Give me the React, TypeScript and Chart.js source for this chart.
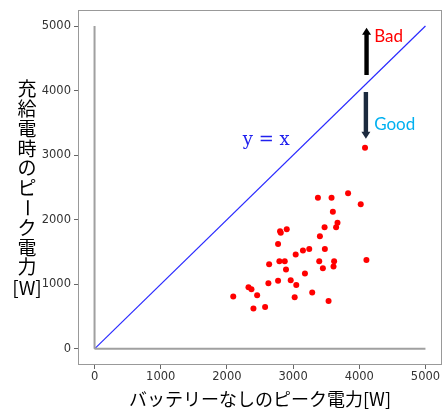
import { useEffect, useRef } from 'react';
import { Chart, registerables } from 'chart.js';
Chart.register(...registerables);

const xValues = [3375, 3581, 3831, 4022, 3601, 3671, 3650, 3476, 3405, 2803, 2814, 2904, 2773, 3039, 3149, 3244, 3480, 2638, 2793, 2874, 3395, 3620, 4108, 2893, 3450, 3611, 3179, 2627, 2773, 2964, 3048, 2326, 2371, 2457, 2096, 3024, 3289, 2401, 2577, 3536, 4087];
const yValues = [2342, 2342, 2410, 2240, 2125, 1955, 1884, 1884, 1745, 1822, 1800, 1853, 1625, 1460, 1522, 1548, 1548, 1311, 1358, 1358, 1358, 1358, 1378, 1228, 1249, 1274, 1166, 1017, 1053, 1063, 991, 955, 924, 831, 810, 800, 872, 624, 650, 743, 3116];

const xTicks = [0, 1000, 2000, 3000, 4000, 5000];
const yTicks = [0, 1000, 2000, 3000, 4000, 5000];
const axisMin = -250;
const axisMax = 5250;

const diagX = [0, 5000];
const diagY = [0, 5000];
const vLineX = [0, 0];
const vLineY = [0, 5000];
const hLineX = [0, 5000];
const hLineY = [0, 0];

// arrows: [x, yFrom, yTo]
const arrowUp = [4110, 4240, 4975];
const arrowDown = [4100, 3980, 3255];
// labels: [x, y]
const badPos = [4225, 4834];
const goodPos = [4225, 3478];
const eqPos = [2595, 3225];

const xTitle = 'バッテリーなしのピーク電力[W]';
const yTitleChars = '充給電時のピーク電力';
const yTitleUnit = '[W]';

const pts = (xs: number[], ys: number[]) => xs.map((x, i) => ({ x, y: ys[i] }));

export default function App() {
  const ref = useRef<HTMLCanvasElement>(null);
  useEffect(() => {
    const overlay = {
      id: 'overlay',
      beforeDatasetsDraw(chart: any) {
        const { ctx, chartArea: a } = chart;
        ctx.save();
        ctx.strokeStyle = '#999';
        ctx.lineWidth = 1;
        ctx.strokeRect(Math.round(a.left) + 0.5, Math.round(a.top) + 0.5, Math.round(a.right - a.left) - 1, Math.round(a.bottom - a.top) - 1);
        ctx.restore();
      },
      afterDraw(chart: any) {
        const { ctx, chartArea: a, scales } = chart;
        const xs = scales.x, ys = scales.y;
        ctx.save();
        const drawArrow = (spec: number[], color: string) => {
          const x = xs.getPixelForValue(spec[0]);
          const y0 = ys.getPixelForValue(spec[1]);
          const y1 = ys.getPixelForValue(spec[2]);
          const dir = y1 < y0 ? -1 : 1;
          const headLen = 7, sw = 2.2, hw = 4.5;
          const yb = y1 - dir * headLen;
          ctx.fillStyle = color;
          ctx.beginPath();
          ctx.moveTo(x - sw, y0);
          ctx.lineTo(x - sw, yb);
          ctx.lineTo(x - hw, yb);
          ctx.lineTo(x, y1);
          ctx.lineTo(x + hw, yb);
          ctx.lineTo(x + sw, yb);
          ctx.lineTo(x + sw, y0);
          ctx.closePath();
          ctx.fill();
        };
        drawArrow(arrowUp, '#000000');
        drawArrow(arrowDown, '#1c2a3e');
        ctx.textBaseline = 'middle';
        ctx.textAlign = 'left';
        ctx.font = '17px Lato';
        ctx.fillStyle = '#ff0000';
        ctx.fillText('Bad', xs.getPixelForValue(badPos[0]), ys.getPixelForValue(badPos[1]));
        ctx.fillStyle = '#00b0f0';
        ctx.fillText('Good', xs.getPixelForValue(goodPos[0]), ys.getPixelForValue(goodPos[1]));
        ctx.textAlign = 'center';
        ctx.font = '18px "DejaVu Serif"';
        ctx.fillStyle = '#2020ee';
        ctx.fillText('y = x', xs.getPixelForValue(eqPos[0]), ys.getPixelForValue(eqPos[1]));
        ctx.fillStyle = '#000';
        ctx.font = '18px "Noto Sans CJK JP"';
        ctx.textAlign = 'center';
        ctx.fillText(xTitle, (a.left + a.right) / 2, 399);
        ctx.font = '19px "Noto Sans CJK JP"';
        const cx = 27;
        let cy = 89;
        for (const ch of yTitleChars) {
          if (ch === 'ー') {
            ctx.save();
            ctx.translate(cx, cy);
            ctx.rotate(Math.PI / 2);
            ctx.fillText(ch, 0, 0);
            ctx.restore();
          } else {
            ctx.fillText(ch, cx, cy);
          }
          cy += 19.8;
        }
        ctx.fillText(yTitleUnit, cx, 288);
        ctx.restore();
      },
    };

    const chart = new Chart(ref.current!, {
      type: 'scatter',
      data: {
        datasets: [
          { data: pts(vLineX, vLineY), showLine: true, borderColor: '#a0a0a0', borderWidth: 2, pointRadius: 0 },
          { data: pts(hLineX, hLineY), showLine: true, borderColor: '#a0a0a0', borderWidth: 2, pointRadius: 0 },
          { data: pts(diagX, diagY), showLine: true, borderColor: '#2a2aff', borderWidth: 1.2, pointRadius: 0 },
          { data: pts(xValues, yValues), pointRadius: 3, pointBackgroundColor: '#ff0000', pointBorderWidth: 0, borderWidth: 0 },
        ],
      },
      options: {
        animation: false,
        responsive: false,
        events: [],
        layout: { padding: { top: 8, right: 2, left: 0, bottom: 0 } },
        plugins: { legend: { display: false }, tooltip: { enabled: false } },
        scales: {
          x: {
            type: 'linear',
            min: axisMin,
            max: axisMax,
            afterBuildTicks: (s: any) => { s.ticks = xTicks.map((v) => ({ value: v })); },
            afterFit: (s: any) => { s.height = 45; },
            grid: { drawOnChartArea: false, drawTicks: true, tickLength: 4, color: '#666' },
            border: { display: false },
            ticks: { padding: 1, color: '#333', font: { family: 'DejaVu Sans', size: 11.5 }, maxRotation: 0, callback: (v: any) => String(v) },
          },
          y: {
            type: 'linear',
            min: axisMin,
            max: axisMax,
            afterBuildTicks: (s: any) => { s.ticks = yTicks.map((v) => ({ value: v })); },
            afterFit: (s: any) => { s.width = 78; },
            grid: { drawOnChartArea: false, drawTicks: true, tickLength: 4, color: '#666' },
            border: { display: false },
            ticks: { padding: 3, color: '#333', font: { family: 'DejaVu Sans', size: 11.5 }, callback: (v: any) => String(v) },
          },
        },
      },
      plugins: [overlay],
    });
    return () => chart.destroy();
  }, []);
  return (
    <div style={{ position: 'absolute', left: 0, top: 0, width: 446, height: 410, background: '#fff' }}>
      <canvas ref={ref} width={446} height={410} style={{ width: 446, height: 410, display: 'block' }} />
    </div>
  );
}
